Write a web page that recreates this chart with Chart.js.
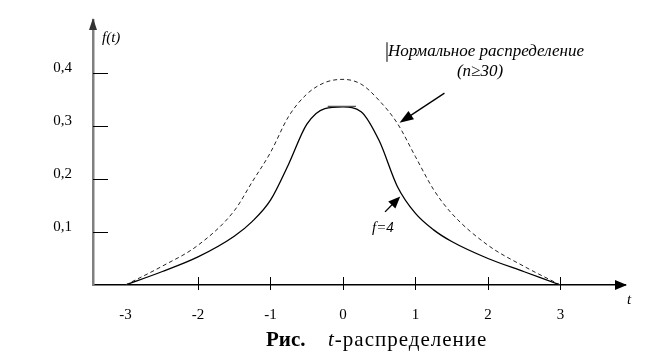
<!DOCTYPE html>
<html>
<head>
<meta charset="utf-8">
<script src="https://cdn.jsdelivr.net/npm/chart.js@4"></script>
<style>
  body { margin: 0; background: #fff; }
  canvas { display: block; }
</style>
</head>
<body>
<canvas id="tChart" width="665" height="361"></canvas>
<script>
// значения
const tValues = [-3, -2.5, -2, -1.5, -1.25, -1, -0.75, -0.5, -0.25, 0, 0.25, 0.5, 0.75, 1, 1.25, 1.5, 2, 2.5, 3];
const normalValues = [0, 0.035, 0.075, 0.14, 0.195, 0.25, 0.318, 0.36, 0.382, 0.388, 0.379, 0.348, 0.305, 0.242, 0.18, 0.135, 0.075, 0.035, 0];
const studentValues = [0, 0.025, 0.053, 0.092, 0.12, 0.16, 0.228, 0.303, 0.333, 0.336, 0.327, 0.272, 0.186, 0.135, 0.104, 0.082, 0.05, 0.025, 0];
const xTickValues = [-3, -2, -1, 0, 1, 2, 3];
const xMarkValues = [-2, -1, 0, 1, 2, 3];
const yTickValues = [0.1, 0.2, 0.3, 0.4];

Chart.defaults.font.family = "'Liberation Serif', 'Times New Roman', serif";
Chart.defaults.color = '#000';

function arrow(ctx, x1, y1, x2, y2, len, half) {
    const a = Math.atan2(y2 - y1, x2 - x1);
    ctx.beginPath();
    ctx.moveTo(x1, y1);
    ctx.lineTo(x2 - Math.cos(a) * len * 0.8, y2 - Math.sin(a) * len * 0.8);
    ctx.stroke();
    ctx.beginPath();
    ctx.moveTo(x2, y2);
    ctx.lineTo(x2 - Math.cos(a) * len - Math.sin(a) * half, y2 - Math.sin(a) * len + Math.cos(a) * half);
    ctx.lineTo(x2 - Math.cos(a) * len + Math.sin(a) * half, y2 - Math.sin(a) * len - Math.cos(a) * half);
    ctx.closePath();
    ctx.fill();
}

const extras = {
    id: 'extras',
    afterDraw(chart) {
        const ctx = chart.ctx;
        const x = chart.scales.x, y = chart.scales.y;
        const area = chart.chartArea;
        const y0 = y.getPixelForValue(0);
        ctx.save();
        ctx.strokeStyle = '#000';
        ctx.fillStyle = '#000';
        ctx.lineWidth = 1;

        // засечки
        yTickValues.forEach(v => {
            const py = Math.round(y.getPixelForValue(v)) + 0.5;
            ctx.beginPath(); ctx.moveTo(area.left, py); ctx.lineTo(area.left + 15, py); ctx.stroke();
        });
        xMarkValues.forEach(v => {
            const px = Math.round(x.getPixelForValue(v)) + 0.5;
            ctx.beginPath(); ctx.moveTo(px, y0 - 8); ctx.lineTo(px, y0 + 5); ctx.stroke();
        });

        // стрелки осей
        ctx.fillStyle = '#333';
        ctx.beginPath();
        ctx.moveTo(area.left, area.top - 2);
        ctx.lineTo(area.left - 4, area.top + 10);
        ctx.lineTo(area.left + 4, area.top + 10);
        ctx.closePath(); ctx.fill();
        ctx.fillStyle = '#000';
        ctx.beginPath();
        ctx.moveTo(area.right + 2, y0);
        ctx.lineTo(area.right - 10, y0 - 5);
        ctx.lineTo(area.right - 10, y0 + 5);
        ctx.closePath(); ctx.fill();

        ctx.font = 'italic 15px "Liberation Serif"';
        ctx.textBaseline = 'alphabetic';
        ctx.textAlign = 'left';
        ctx.fillText('f(t)', area.left + 9, area.top + 22);
        ctx.fillText('t', area.right + 2, y0 + 19);

        // подписи кривых
        ctx.font = 'italic 17px "Liberation Serif"';
        ctx.fillText('Нормальное распределение', x.getPixelForValue(0.62), y.getPixelForValue(0.432));
        ctx.textAlign = 'center';
        ctx.fillText('(n≥30)', x.getPixelForValue(1.89), y.getPixelForValue(0.394));
        ctx.textAlign = 'left';
        ctx.font = 'italic 15px "Liberation Serif"';
        ctx.fillText('f=4', x.getPixelForValue(0.4), y.getPixelForValue(0.1));

        ctx.lineWidth = 1;
        ctx.beginPath();
        ctx.moveTo(x.getPixelForValue(0.607), y.getPixelForValue(0.458));
        ctx.lineTo(x.getPixelForValue(0.607), y.getPixelForValue(0.421));
        ctx.stroke();

        ctx.lineWidth = 1.3;
        arrow(ctx, x.getPixelForValue(1.4), y.getPixelForValue(0.362),
            x.getPixelForValue(0.78), y.getPixelForValue(0.306), 14, 5);
        arrow(ctx, x.getPixelForValue(0.58), y.getPixelForValue(0.138),
            x.getPixelForValue(0.79), y.getPixelForValue(0.167), 12, 5);

        ctx.strokeStyle = '#555';
        ctx.lineWidth = 1.3;
        ctx.beginPath();
        ctx.moveTo(x.getPixelForValue(-0.21), y.getPixelForValue(0.337));
        ctx.lineTo(x.getPixelForValue(0.18), y.getPixelForValue(0.337));
        ctx.stroke();

        // подпись рисунка
        ctx.fillStyle = '#000';
        ctx.textAlign = 'left';
        ctx.font = 'bold 21px "Liberation Serif"';
        ctx.fillText('Рис.', 266, 346);
        ctx.letterSpacing = '1px';
        ctx.font = 'italic 21px "Liberation Serif"';
        ctx.fillText('t', 328, 346);
        const tw = ctx.measureText('t').width;
        ctx.font = '21px "Liberation Serif"';
        ctx.fillText('-распределение', 328 + tw, 346);
        ctx.restore();
    }
};

new Chart(document.getElementById('tChart').getContext('2d'), {
    type: 'line',
    data: {
        labels: tValues,
        datasets: [{
            label: 'Нормальное распределение',
            data: tValues.map((t, i) => ({ x: t, y: normalValues[i] })),
            borderColor: '#222',
            borderWidth: 1,
            borderDash: [4, 3],
            pointRadius: 0,
            cubicInterpolationMode: 'monotone',
        }, {
            label: 'f=4',
            data: tValues.map((t, i) => ({ x: t, y: studentValues[i] })),
            borderColor: '#000',
            borderWidth: 1.3,
            pointRadius: 0,
            cubicInterpolationMode: 'monotone',
        }],
    },
    options: {
        responsive: false,
        animation: false,
        layout: { padding: { top: 20, right: 40, left: 0, bottom: 0 } },
        plugins: { legend: { display: false }, tooltip: { enabled: false } },
        scales: {
            x: {
                type: 'linear',
                min: -3.448,
                max: 3.89,
                afterBuildTicks: s => { s.ticks = xTickValues.map(v => ({ value: v })); },
                afterFit: s => { s.height = 76; s.paddingLeft = 0; s.paddingRight = 0; },
                grid: { display: false, drawTicks: false },
                border: { color: '#000', width: 1.5 },
                ticks: { padding: 21, font: { size: 15 }, maxRotation: 0, autoSkip: false },
            },
            y: {
                min: 0,
                max: 0.5,
                afterBuildTicks: s => { s.ticks = yTickValues.map(v => ({ value: v })); },
                afterFit: s => { s.width = 93; s.paddingTop = 0; s.paddingBottom = 0; },
                grid: { display: false, drawTicks: false },
                border: { color: '#808080', width: 2.5 },
                ticks: {
                    padding: 21,
                    labelOffset: -5,
                    font: { size: 15 },
                    callback: v => v.toFixed(1).replace('.', ','),
                },
            },
        },
    },
    plugins: [extras],
});
</script>
</body>
</html>
